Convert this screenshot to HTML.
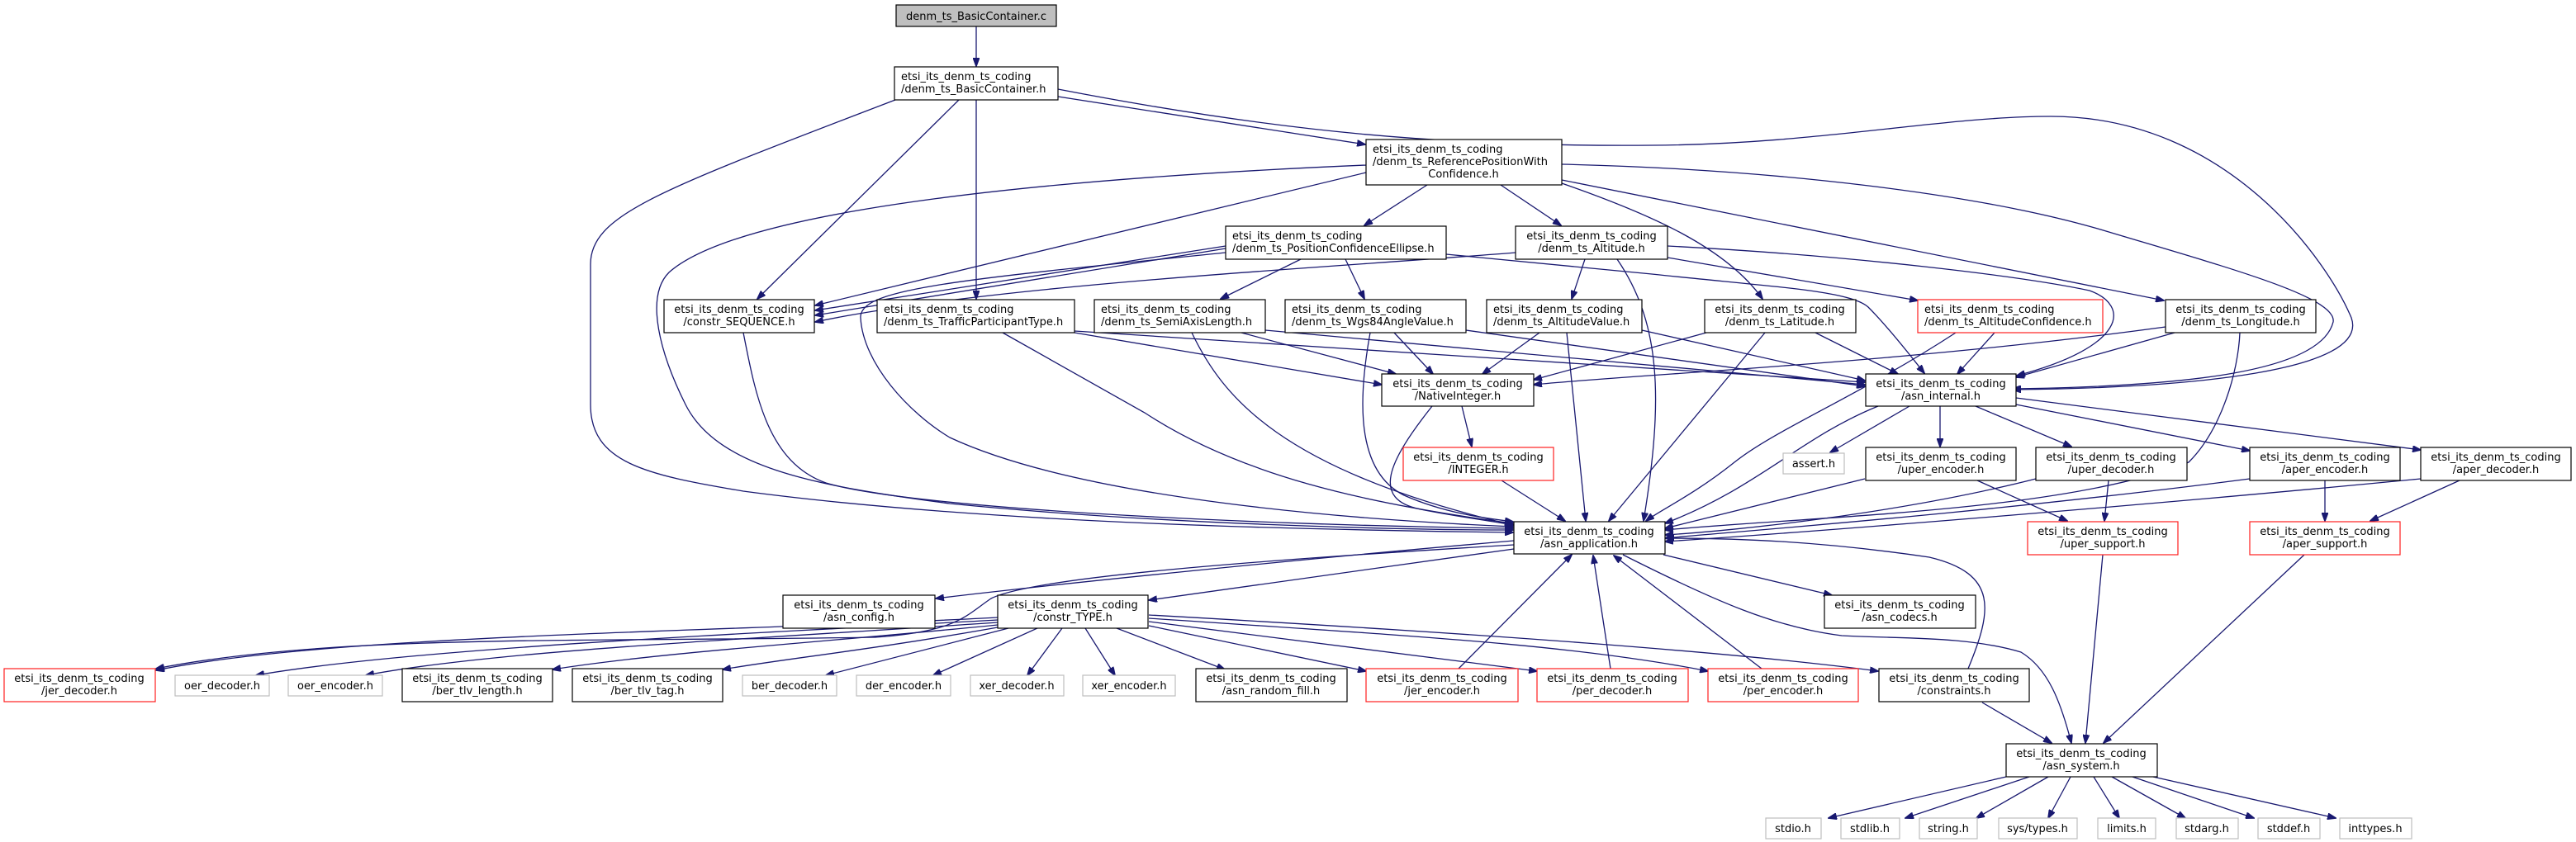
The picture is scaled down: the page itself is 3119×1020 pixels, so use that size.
<!DOCTYPE html>
<html><head><meta charset="utf-8"><style>
html,body{margin:0;padding:0;background:#fff;}
svg{display:block;}
text{font-family:"DejaVu Sans","Liberation Sans",sans-serif;font-size:13px;fill:#000;}
.e{fill:none;stroke:#191970;stroke-width:1.3;marker-end:url(#a);}
.n{fill:#fff;stroke:#000;stroke-width:1.2;}
.g{fill:#fff;stroke:#bfbfbf;stroke-width:1.2;}
.r{fill:#fff;stroke:#ff2020;stroke-width:1.2;}
</style></head><body>
<svg width="3119" height="1020" viewBox="0 0 3119 1020" xmlns="http://www.w3.org/2000/svg">
<defs><marker id="a" markerWidth="11" markerHeight="8" refX="10" refY="4" orient="auto" markerUnits="userSpaceOnUse"><path d="M0,0 L11,4 L0,8 z" fill="#191970" stroke="#191970"/></marker></defs>

<!-- edges -->
<path class="e" d="M1182,32 L1182,80"/>
<path class="e" d="M1162,120 L917,362"/>
<path class="e" d="M1182,120 L1182,362"/>
<path class="e" d="M1281,117 L1653,175"/>
<path class="e" d="M1281,108 C1550,160 1750,178 2000,176 C2200,175 2350,141 2483,141 C2700,141 2820,320 2847,385 C2870,450 2650,470 2437,472"/>
<path class="e" d="M1084,121 C800,230 715,260 715,320 L715,490 C715,560 780,575 900,595 C1200,635 1600,642 1832,645"/>
<path class="e" d="M1654,209 L987,370"/>
<path class="e" d="M1728,224 L1652,273"/>
<path class="e" d="M1817,224 L1890,273"/>
<path class="e" d="M1891,222 C2000,260 2090,300 2134,362"/>
<path class="e" d="M1891,218 L2620,364"/>
<path class="e" d="M1891,199 C2150,205 2400,235 2550,280 C2700,325 2830,360 2825,390 C2810,450 2650,468 2437,471"/>
<path class="e" d="M1654,200 C1300,215 900,250 810,330 C780,360 800,430 830,490 C870,570 1000,590 1150,610 C1400,635 1700,642 1832,642"/>
<path class="e" d="M1484,298 L987,376"/>
<path class="e" d="M1484,301 L987,382"/>
<path class="e" d="M1575,314 L1478,362"/>
<path class="e" d="M1629,314 L1652,362"/>
<path class="e" d="M1751,308 L2000,332 C2150,348 2240,352 2262,372 C2290,400 2320,440 2330,452"/>
<path class="e" d="M1484,306 C1150,340 1040,350 1042,385 C1045,440 1100,500 1150,530 C1300,600 1600,628 1832,638"/>
<path class="e" d="M1835,306 C1600,325 1200,345 987,390"/>
<path class="e" d="M1919,314 L1903,362"/>
<path class="e" d="M2019,312 L2322,364"/>
<path class="e" d="M2019,298 C2250,310 2450,335 2530,352 C2580,370 2575,420 2442,455"/>
<path class="e" d="M1958,314 C2010,390 2015,480 1990,631"/>
<path class="e" d="M900,403 C915,480 930,560 1000,585 C1100,615 1500,636 1832,640"/>
<path class="e" d="M1301,403 L1673,466"/>
<path class="e" d="M1301,401 L2258,463"/>
<path class="e" d="M1214,403 L1386,500 C1500,575 1650,610 1832,634"/>
<path class="e" d="M1503,403 L1690,453"/>
<path class="e" d="M1532,400 L2258,466"/>
<path class="e" d="M1443,403 C1480,480 1550,570 1832,636"/>
<path class="e" d="M1688,403 L1735,453"/>
<path class="e" d="M1775,400 L2258,468"/>
<path class="e" d="M1659,403 C1645,480 1640,570 1700,600 C1750,622 1800,628 1832,632"/>
<path class="e" d="M1864,403 L1795,453"/>
<path class="e" d="M1988,400 L2258,461"/>
<path class="e" d="M1897,403 L1920,631"/>
<path class="e" d="M2066,403 L1857,460"/>
<path class="e" d="M2198,403 L2298,453"/>
<path class="e" d="M2137,403 L1948,631"/>
<path class="e" d="M2415,403 L2370,453"/>
<path class="e" d="M2368,403 C2250,480 2150,520 2100,560 C2050,600 2010,618 1993,631"/>
<path class="e" d="M2622,396 C2300,440 2000,452 1857,466"/>
<path class="e" d="M2633,403 L2441,457"/>
<path class="e" d="M2712,403 C2710,450 2690,520 2650,560 C2500,620 2200,625 2016,642"/>
<path class="e" d="M1770,492 L1782,541"/>
<path class="e" d="M1734,492 C1680,560 1660,605 1720,617 C1770,627 1800,630 1832,636"/>
<path class="e" d="M1818,582 L1895,631"/>
<path class="e" d="M2274,492 C2180,530 2130,590 2016,634"/>
<path class="e" d="M2312,492 L2216,548"/>
<path class="e" d="M2349,492 L2349,541"/>
<path class="e" d="M2392,492 L2508,541"/>
<path class="e" d="M2441,490 L2724,546"/>
<path class="e" d="M2441,482 L2931,545"/>
<path class="e" d="M2258,580 L2016,640"/>
<path class="e" d="M2465,580 C2300,622 2100,643 2016,648"/>
<path class="e" d="M2724,580 C2400,622 2100,644 2016,652"/>
<path class="e" d="M2931,580 C2600,612 2200,644 2016,656"/>
<path class="e" d="M2394,582 L2503,631"/>
<path class="e" d="M2553,582 L2548,631"/>
<path class="e" d="M2815,582 L2815,631"/>
<path class="e" d="M2978,582 L2870,631"/>
<path class="e" d="M1833,655 C1600,675 1300,705 1133,725"/>
<path class="e" d="M1833,665 L1391,727"/>
<path class="e" d="M2014,672 L2218,721"/>
<path class="e" d="M1965,672 C2080,730 2150,760 2230,770 C2300,774 2380,770 2447,790 C2480,810 2495,850 2508,900"/>
<path class="e" d="M1833,660 C1500,680 1250,700 1200,725 C1170,745 1160,765 1060,772 C700,778 400,768 189,810"/>
<path class="e" d="M1208,748 C900,765 400,768 189,812"/>
<path class="e" d="M1208,751 C900,768 500,785 310,818"/>
<path class="e" d="M1208,754 C900,775 600,788 443,818"/>
<path class="e" d="M1208,757 C1000,778 800,790 669,811"/>
<path class="e" d="M1208,760 C1050,788 950,798 875,811"/>
<path class="e" d="M1221,761 L1000,818"/>
<path class="e" d="M1256,761 L1130,818"/>
<path class="e" d="M1286,761 L1244,818"/>
<path class="e" d="M1314,761 L1350,818"/>
<path class="e" d="M1352,761 L1483,811"/>
<path class="e" d="M1391,758 L1654,813"/>
<path class="e" d="M1391,753 L1861,813"/>
<path class="e" d="M1391,749 C1700,770 1900,780 2068,813"/>
<path class="e" d="M1391,745 C1800,768 2100,790 2274,813"/>
<path class="e" d="M1766,810 L1903,672"/>
<path class="e" d="M1950,810 L1929,673"/>
<path class="e" d="M2133,810 L1954,673"/>
<path class="e" d="M2383,810 C2412,740 2420,695 2336,675 C2200,655 2100,652 2017,652"/>
<path class="e" d="M2400,851 L2484,900"/>
<path class="e" d="M2546,672 L2525,900"/>
<path class="e" d="M2790,672 L2547,900"/>
<path class="e" d="M2429,941 L2214,991"/>
<path class="e" d="M2457,941 L2307,991"/>
<path class="e" d="M2480,941 L2393,991"/>
<path class="e" d="M2507,941 L2480,991"/>
<path class="e" d="M2535,941 L2566,991"/>
<path class="e" d="M2557,941 L2646,991"/>
<path class="e" d="M2582,941 L2729,991"/>
<path class="e" d="M2607,941 L2828,991"/>

<!-- nodes -->
<rect x="1085" y="6" width="194" height="26" fill="#bfbfbf" stroke="#000" stroke-width="1.2"/>
<text x="1182" y="24" text-anchor="middle">denm_ts_BasicContainer.c</text>

<rect class="n" x="1083" y="81" width="198" height="40"/>
<text x="1091" y="97">etsi_its_denm_ts_coding</text><text x="1091" y="112">/denm_ts_BasicContainer.h</text>

<rect class="n" x="1654" y="169" width="237" height="55"/>
<text x="1662" y="185">etsi_its_denm_ts_coding</text><text x="1662" y="200">/denm_ts_ReferencePositionWith</text><text x="1772" y="215" text-anchor="middle">Confidence.h</text>

<rect class="n" x="1484" y="274" width="267" height="40"/>
<text x="1492" y="290">etsi_its_denm_ts_coding</text><text x="1492" y="305">/denm_ts_PositionConfidenceEllipse.h</text>

<rect class="n" x="1835" y="274" width="184" height="40"/>
<text x="1927" y="290" text-anchor="middle">etsi_its_denm_ts_coding</text><text x="1927" y="305" text-anchor="middle">/denm_ts_Altitude.h</text>

<rect class="n" x="804" y="363" width="182" height="40"/>
<text x="895" y="379" text-anchor="middle">etsi_its_denm_ts_coding</text><text x="895" y="394" text-anchor="middle">/constr_SEQUENCE.h</text>

<rect class="n" x="1062" y="363" width="239" height="40"/>
<text x="1070" y="379">etsi_its_denm_ts_coding</text><text x="1070" y="394">/denm_ts_TrafficParticipantType.h</text>

<rect class="n" x="1325" y="363" width="207" height="40"/>
<text x="1333" y="379">etsi_its_denm_ts_coding</text><text x="1333" y="394">/denm_ts_SemiAxisLength.h</text>

<rect class="n" x="1556" y="363" width="219" height="40"/>
<text x="1564" y="379">etsi_its_denm_ts_coding</text><text x="1564" y="394">/denm_ts_Wgs84AngleValue.h</text>

<rect class="n" x="1800" y="363" width="188" height="40"/>
<text x="1808" y="379">etsi_its_denm_ts_coding</text><text x="1808" y="394">/denm_ts_AltitudeValue.h</text>

<rect class="n" x="2064" y="363" width="183" height="40"/>
<text x="2155" y="379" text-anchor="middle">etsi_its_denm_ts_coding</text><text x="2155" y="394" text-anchor="middle">/denm_ts_Latitude.h</text>

<rect class="r" x="2322" y="363" width="224" height="40"/>
<text x="2330" y="379">etsi_its_denm_ts_coding</text><text x="2330" y="394">/denm_ts_AltitudeConfidence.h</text>

<rect class="n" x="2622" y="363" width="182" height="40"/>
<text x="2713" y="379" text-anchor="middle">etsi_its_denm_ts_coding</text><text x="2713" y="394" text-anchor="middle">/denm_ts_Longitude.h</text>

<rect class="n" x="1673" y="453" width="184" height="39"/>
<text x="1765" y="469" text-anchor="middle">etsi_its_denm_ts_coding</text><text x="1765" y="484" text-anchor="middle">/NativeInteger.h</text>

<rect class="n" x="2259" y="453" width="182" height="39"/>
<text x="2350" y="469" text-anchor="middle">etsi_its_denm_ts_coding</text><text x="2350" y="484" text-anchor="middle">/asn_internal.h</text>

<rect class="r" x="1699" y="542" width="182" height="40"/>
<text x="1790" y="558" text-anchor="middle">etsi_its_denm_ts_coding</text><text x="1790" y="573" text-anchor="middle">/INTEGER.h</text>

<rect class="g" x="2159" y="549" width="74" height="25"/>
<text x="2196" y="566" text-anchor="middle">assert.h</text>

<rect class="n" x="2259" y="542" width="182" height="40"/>
<text x="2350" y="558" text-anchor="middle">etsi_its_denm_ts_coding</text><text x="2350" y="573" text-anchor="middle">/uper_encoder.h</text>

<rect class="n" x="2465" y="542" width="183" height="40"/>
<text x="2556" y="558" text-anchor="middle">etsi_its_denm_ts_coding</text><text x="2556" y="573" text-anchor="middle">/uper_decoder.h</text>

<rect class="n" x="2724" y="542" width="182" height="40"/>
<text x="2815" y="558" text-anchor="middle">etsi_its_denm_ts_coding</text><text x="2815" y="573" text-anchor="middle">/aper_encoder.h</text>

<rect class="n" x="2931" y="542" width="182" height="40"/>
<text x="3022" y="558" text-anchor="middle">etsi_its_denm_ts_coding</text><text x="3022" y="573" text-anchor="middle">/aper_decoder.h</text>

<rect class="n" x="1833" y="632" width="183" height="39"/>
<text x="1924" y="648" text-anchor="middle">etsi_its_denm_ts_coding</text><text x="1924" y="663" text-anchor="middle">/asn_application.h</text>

<rect class="r" x="2455" y="632" width="182" height="40"/>
<text x="2546" y="648" text-anchor="middle">etsi_its_denm_ts_coding</text><text x="2546" y="663" text-anchor="middle">/uper_support.h</text>

<rect class="r" x="2724" y="632" width="182" height="40"/>
<text x="2815" y="648" text-anchor="middle">etsi_its_denm_ts_coding</text><text x="2815" y="663" text-anchor="middle">/aper_support.h</text>

<rect class="n" x="948" y="721" width="184" height="40"/>
<text x="1040" y="737" text-anchor="middle">etsi_its_denm_ts_coding</text><text x="1040" y="752" text-anchor="middle">/asn_config.h</text>

<rect class="n" x="1208" y="721" width="182" height="40"/>
<text x="1299" y="737" text-anchor="middle">etsi_its_denm_ts_coding</text><text x="1299" y="752" text-anchor="middle">/constr_TYPE.h</text>

<rect class="n" x="2209" y="721" width="183" height="40"/>
<text x="2300" y="737" text-anchor="middle">etsi_its_denm_ts_coding</text><text x="2300" y="752" text-anchor="middle">/asn_codecs.h</text>

<rect class="r" x="5" y="810" width="183" height="40"/>
<text x="96" y="826" text-anchor="middle">etsi_its_denm_ts_coding</text><text x="96" y="841" text-anchor="middle">/jer_decoder.h</text>

<rect class="g" x="212" y="818" width="114" height="25"/>
<text x="269" y="835" text-anchor="middle">oer_decoder.h</text>
<rect class="g" x="349" y="818" width="114" height="25"/>
<text x="406" y="835" text-anchor="middle">oer_encoder.h</text>

<rect class="n" x="487" y="810" width="182" height="40"/>
<text x="578" y="826" text-anchor="middle">etsi_its_denm_ts_coding</text><text x="578" y="841" text-anchor="middle">/ber_tlv_length.h</text>

<rect class="n" x="693" y="810" width="182" height="40"/>
<text x="784" y="826" text-anchor="middle">etsi_its_denm_ts_coding</text><text x="784" y="841" text-anchor="middle">/ber_tlv_tag.h</text>

<rect class="g" x="899" y="818" width="114" height="25"/>
<text x="956" y="835" text-anchor="middle">ber_decoder.h</text>
<rect class="g" x="1037" y="818" width="114" height="25"/>
<text x="1094" y="835" text-anchor="middle">der_encoder.h</text>
<rect class="g" x="1175" y="818" width="113" height="25"/>
<text x="1231" y="835" text-anchor="middle">xer_decoder.h</text>
<rect class="g" x="1311" y="818" width="112" height="25"/>
<text x="1367" y="835" text-anchor="middle">xer_encoder.h</text>

<rect class="n" x="1448" y="810" width="183" height="40"/>
<text x="1539" y="826" text-anchor="middle">etsi_its_denm_ts_coding</text><text x="1539" y="841" text-anchor="middle">/asn_random_fill.h</text>

<rect class="r" x="1654" y="810" width="184" height="40"/>
<text x="1746" y="826" text-anchor="middle">etsi_its_denm_ts_coding</text><text x="1746" y="841" text-anchor="middle">/jer_encoder.h</text>

<rect class="r" x="1861" y="810" width="183" height="40"/>
<text x="1952" y="826" text-anchor="middle">etsi_its_denm_ts_coding</text><text x="1952" y="841" text-anchor="middle">/per_decoder.h</text>

<rect class="r" x="2068" y="810" width="182" height="40"/>
<text x="2159" y="826" text-anchor="middle">etsi_its_denm_ts_coding</text><text x="2159" y="841" text-anchor="middle">/per_encoder.h</text>

<rect class="n" x="2275" y="810" width="182" height="40"/>
<text x="2366" y="826" text-anchor="middle">etsi_its_denm_ts_coding</text><text x="2366" y="841" text-anchor="middle">/constraints.h</text>

<rect class="n" x="2429" y="901" width="183" height="40"/>
<text x="2520" y="917" text-anchor="middle">etsi_its_denm_ts_coding</text><text x="2520" y="932" text-anchor="middle">/asn_system.h</text>

<rect class="g" x="2138" y="991" width="67" height="25"/>
<text x="2171" y="1008" text-anchor="middle">stdio.h</text>
<rect class="g" x="2229" y="991" width="71" height="25"/>
<text x="2264" y="1008" text-anchor="middle">stdlib.h</text>
<rect class="g" x="2324" y="991" width="70" height="25"/>
<text x="2359" y="1008" text-anchor="middle">string.h</text>
<rect class="g" x="2420" y="991" width="95" height="25"/>
<text x="2467" y="1008" text-anchor="middle">sys/types.h</text>
<rect class="g" x="2540" y="991" width="70" height="25"/>
<text x="2575" y="1008" text-anchor="middle">limits.h</text>
<rect class="g" x="2635" y="991" width="75" height="25"/>
<text x="2672" y="1008" text-anchor="middle">stdarg.h</text>
<rect class="g" x="2734" y="991" width="75" height="25"/>
<text x="2771" y="1008" text-anchor="middle">stddef.h</text>
<rect class="g" x="2833" y="991" width="87" height="25"/>
<text x="2876" y="1008" text-anchor="middle">inttypes.h</text>
</svg>
</body></html>
